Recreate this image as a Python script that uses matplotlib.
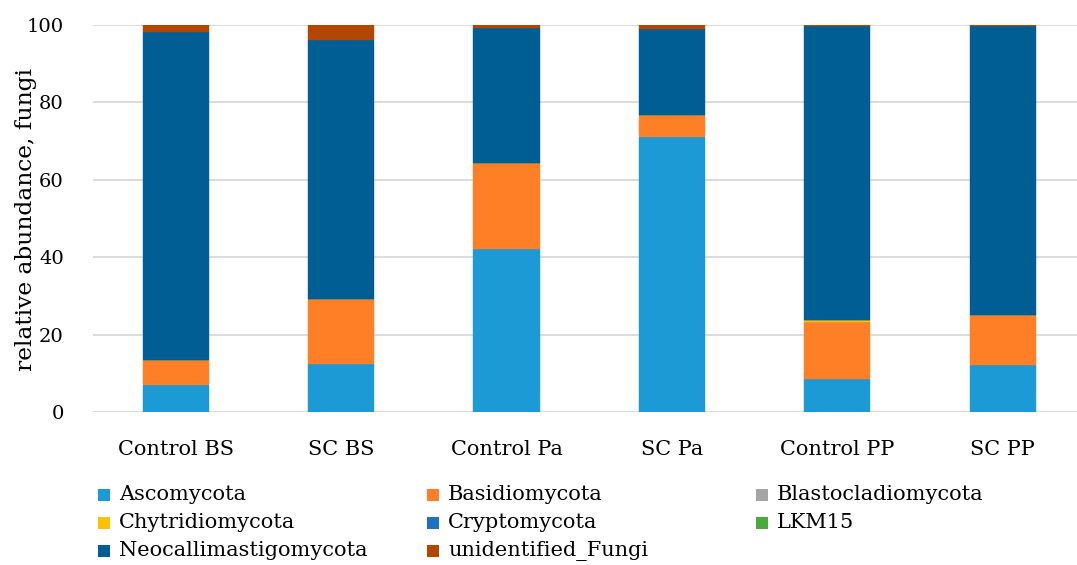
import numpy as np
import matplotlib.pyplot as plt
from matplotlib.patches import Rectangle

plt.rcParams['font.family'] = ['DejaVu Serif']

samples = ['Control BS', 'SC BS', 'Control Pa', 'SC Pa', 'Control PP', 'SC PP']
phyla = ['Ascomycota', 'Basidiomycota', 'Blastocladiomycota', 'Chytridiomycota',
         'Cryptomycota', 'LKM15', 'Neocallimastigomycota', 'unidentified_Fungi']
colors = ['#1B9AD6', '#FF7F27', '#A5A5A5', '#FFC000',
          '#1F70C1', '#4BAA3C', '#005E94', '#B34700']

ascomycota = [7.1, 12.4, 42.0, 71.1, 8.4, 12.1]
basidiomycota = [6.4, 16.9, 22.4, 5.6, 14.9, 12.9]
blastocladiomycota = [0.0, 0.0, 0.0, 0.0, 0.0, 0.0]
chytridiomycota = [0.0, 0.0, 0.0, 0.0, 0.5, 0.0]
cryptomycota = [0.0, 0.0, 0.0, 0.0, 0.0, 0.0]
lkm15 = [0.0, 0.0, 0.0, 0.0, 0.0, 0.0]
neocallimastigomycota = [84.6, 66.8, 34.9, 22.2, 75.9, 74.7]
unidentified = [1.9, 3.9, 0.7, 1.1, 0.3, 0.3]

series = [ascomycota, basidiomycota, blastocladiomycota, chytridiomycota,
          cryptomycota, lkm15, neocallimastigomycota, unidentified]

fig = plt.figure(figsize=(10.77, 5.65), dpi=100)
ax = fig.add_axes([93 / 1077, 1 - 412 / 565, 1 - 93 / 1077, 387 / 565])

x = np.arange(len(samples))
bottom = np.zeros(len(samples))
for name, vals, c in zip(phyla, series, colors):
    ax.bar(x, vals, 0.4, bottom=bottom, color=c, edgecolor=c,
           linewidth=0.3, label=name, zorder=3)
    bottom += np.array(vals)

ax.set_ylim(0, 100)
ax.set_xlim(-0.5, 5.45)
ax.set_yticks([0, 20, 40, 60, 80, 100])
ax.yaxis.grid(True, color='#D9D9D9', linewidth=1.3, zorder=0)
ax.set_axisbelow(True)
for s in ax.spines.values():
    s.set_visible(False)
ax.tick_params(length=0, colors='black')
ax.tick_params(axis='y', pad=21, labelsize=14)
ax.tick_params(axis='x', pad=20, labelsize=15)
ax.set_xticks(x)
ax.set_xticklabels(samples)
ax.set_ylabel('relative abundance, fungi', fontsize=16.8)
ax.yaxis.set_label_coords(-56 / 984, 0.497)

# legend, 3 equal-width columns like the original
col_x = [98, 427, 756]
row_y = [495, 523, 551]
for i, (name, c) in enumerate(zip(phyla, colors)):
    cx = col_x[i % 3]
    cy = row_y[i // 3]
    fig.patches.append(Rectangle((cx / 1077, 1 - (cy + 6) / 565), 12 / 1077, 12 / 565,
                                 transform=fig.transFigure, facecolor=c, edgecolor='none'))
    fig.text((cx + 21) / 1077, 1 - cy / 565, name, fontsize=15, va='center', ha='left')

fig.savefig('out.png', dpi=100)
